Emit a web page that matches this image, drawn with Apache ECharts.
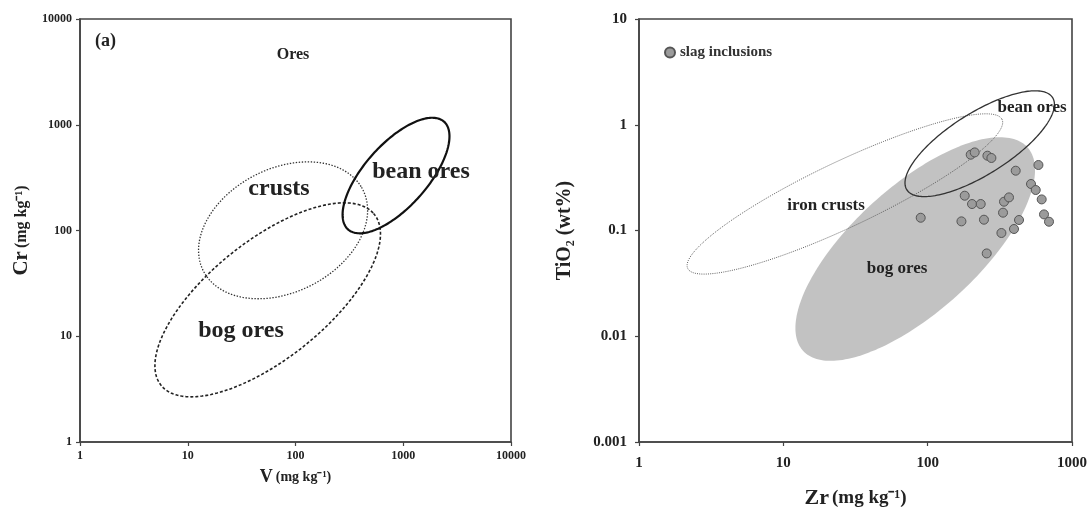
<!DOCTYPE html>
<html><head><meta charset="utf-8">
<script src="https://cdn.jsdelivr.net/npm/echarts@6/dist/echarts.min.js"></script>
<style>html,body{margin:0;padding:0;background:#fff}#c{width:1091px;height:514px}</style>
</head><body><div id="c"></div>
<script>
// ---------------- Data ----------------
const vTicks = ['1', '10', '100', '1000', '10000'];
const crTicks = ['1', '10', '100', '1000', '10000'];
const zrTicks = ['1', '10', '100', '1000'];
const tiTicks = ['0.001', '0.01', '0.1', '1', '10'];

// Each field: [centre, end of one semi-diameter, end of the conjugate semi-diameter], data units
const crustsEllipse = [[76.7, 100.4], [410, 256], [150.4, 31.5]];
const bogOresEllipseA = [[55.2, 22.1], [530, 145], [126.9, 8.46]];
const beanOresEllipseA = [[857, 331], [2366, 1079], [1445, 215]];

const bogOresEllipseB = [[82.0, 0.0668], [482.5, 0.628], [167.8, 0.02577]];
const ironCrustsEllipseB = [[26.7, 0.2216], [327.1, 1.128], [34.1, 0.118]];
const beanOresEllipseB = [[229.4, 0.662], [729.8, 1.825], [305.2, 0.3833]];

const slagZr = [89.5, 171.4, 180.6, 202.9, 233.1, 198.7, 211.8, 259.4, 276.4, 245.5, 256.5, 324.3,
  332.7, 338, 366, 407.4, 396.4, 429.5, 520, 560.6, 585.3, 616.6, 639.9, 692.9];
const slagTiO2 = [0.132, 0.122, 0.2133, 0.178, 0.178, 0.521, 0.5475, 0.5097, 0.485, 0.1265, 0.0607, 0.0947,
  0.1474, 0.1872, 0.2056, 0.3677, 0.1033, 0.1257, 0.2752, 0.2415, 0.4163, 0.1968, 0.142, 0.1211];

// ---------------- Chart ----------------
const FONT = '"Liberation Serif", "Times New Roman", serif';
const chart = echarts.init(document.getElementById('c'), null, {renderer: 'canvas'});

function flat(e) { return [[e[0][0], e[0][1], e[1][0], e[1][1], e[2][0], e[2][1]]]; }

function ellipseSeries(e, xi, style, z) {
  return {
    type: 'custom', xAxisIndex: xi, yAxisIndex: xi, silent: true, z: z,
    data: flat(e),
    encode: {x: [0, 2, 4], y: [1, 3, 5]},
    renderItem: function (params, api) {
      const c = api.coord([api.value(0), api.value(1)]);
      const p = api.coord([api.value(2), api.value(3)]);
      const q = api.coord([api.value(4), api.value(5)]);
      const ux = p[0] - c[0], uy = p[1] - c[1], vx = q[0] - c[0], vy = q[1] - c[1];
      const pts = [];
      const N = 200;
      for (let i = 0; i < N; i++) {
        const t = 2 * Math.PI * i / N;
        pts.push([c[0] + ux * Math.cos(t) + vx * Math.sin(t), c[1] + uy * Math.cos(t) + vy * Math.sin(t)]);
      }
      return {type: 'polygon', shape: {points: pts}, style: style};
    }
  };
}

function logAxis(gi, min, max, labels, name, gap, size, margin, rich) {
  return {
    type: 'log', logBase: 10, gridIndex: gi, min: min, max: max,
    name: name, nameLocation: 'middle', nameGap: gap,
    nameTextStyle: {rich: rich, fontFamily: FONT, fontWeight: 'bold', color: '#222'},
    axisLine: {show: true, lineStyle: {color: '#444', width: 1.6}},
    axisTick: {show: true, length: 4, lineStyle: {color: '#444', width: 1.2}},
    minorTick: {show: false},
    splitLine: {show: false},
    axisLabel: {
      margin: margin, fontFamily: FONT, fontWeight: 'bold', fontSize: size, color: '#222',
      formatter: function (v, i) { return labels[i] !== undefined ? labels[i] : ''; }
    }
  };
}

const richV = {b: {fontSize: 18, fontFamily: FONT, fontWeight: 'bold', color: '#222'}, s: {fontSize: 14, fontFamily: FONT, fontWeight: 'bold', color: '#222'}};
const richCr = {b: {fontSize: 21, fontFamily: FONT, fontWeight: 'bold', color: '#222'}, s: {fontSize: 16, fontFamily: FONT, fontWeight: 'bold', color: '#222'}};
const richZr = {b: {fontSize: 22, fontFamily: FONT, fontWeight: 'bold', color: '#222'}, s: {fontSize: 19, fontFamily: FONT, fontWeight: 'bold', color: '#222'}};
const richTi = {b: {fontSize: 20, fontFamily: FONT, fontWeight: 'bold', color: '#222'}};

function label(text, x, y, size, align) {
  return {type: 'text', x: x, y: y, silent: true, z: 100,
    style: {text: text, fontFamily: FONT, fontWeight: 'bold', fontSize: size, fill: '#222',
      align: align || 'center', verticalAlign: 'middle'}};
}

const option = {
  backgroundColor: '#fff',
  animation: false,
  grid: [
    {left: 80, top: 19, width: 431, height: 423, show: true, borderColor: '#444', borderWidth: 1.6, backgroundColor: 'transparent'},
    {left: 639, top: 19, width: 433, height: 423, show: true, borderColor: '#444', borderWidth: 1.6, backgroundColor: 'transparent'}
  ],
  xAxis: [
    logAxis(0, 1, 10000, vTicks, '{b|V} {s|(mg kg⁻¹)}', 26, 12, 8, richV),
    logAxis(1, 1, 1000, zrTicks, '{b|Zr} {s|(mg kg⁻¹)}', 45, 15, 14, richZr)
  ],
  yAxis: [
    logAxis(0, 1, 10000, crTicks, '{b|Cr} {s|(mg kg⁻¹)}', 48, 12, 8, richCr),
    logAxis(1, 0.001, 10, tiTicks, '{b|TiO₂ (wt%)}', 64, 15, 12, richTi)
  ],
  legend: {
    data: ['slag inclusions'], left: 664, top: 45, padding: 0, itemWidth: 10, itemHeight: 10,
    icon: 'circle',
    textStyle: {fontFamily: FONT, fontWeight: 'bold', fontSize: 15, color: '#333'}
  },
  graphic: [
    label('(a)', 95, 41, 18, 'left'),
    label('Ores', 293, 55, 16),
    label('crusts', 279, 189, 24),
    label('bean ores', 421, 172, 24),
    label('bog ores', 241, 331, 24),
    label('bean ores', 1032, 108, 17),
    label('iron crusts', 826, 206, 17),
    label('bog ores', 897, 269, 17)
  ],
  series: [
    ellipseSeries(crustsEllipse, 0, {fill: 'none', stroke: '#333', lineWidth: 1.3, lineDash: [1.4, 1.6]}, 2),
    ellipseSeries(bogOresEllipseA, 0, {fill: 'none', stroke: '#222', lineWidth: 1.6, lineDash: [3, 2]}, 2),
    ellipseSeries(beanOresEllipseA, 0, {fill: 'none', stroke: '#111', lineWidth: 2.2}, 2),
    ellipseSeries(bogOresEllipseB, 1, {fill: '#c2c2c2', stroke: 'none'}, 1),
    ellipseSeries(ironCrustsEllipseB, 1, {fill: 'none', stroke: '#5e5e5e', lineWidth: 1, lineDash: [1, 1.2]}, 2),
    ellipseSeries(beanOresEllipseB, 1, {fill: 'none', stroke: '#333', lineWidth: 1.3}, 2),
    {
      type: 'scatter', name: 'slag inclusions', xAxisIndex: 1, yAxisIndex: 1, z: 5,
      symbol: 'circle', symbolSize: 9,
      itemStyle: {color: '#9b9b9b', borderColor: '#555', borderWidth: 1, opacity: 1},
      data: slagZr.map(function (z, i) { return [z, slagTiO2[i]]; })
    }
  ]
};
chart.setOption(option);
</script>
</body></html>
